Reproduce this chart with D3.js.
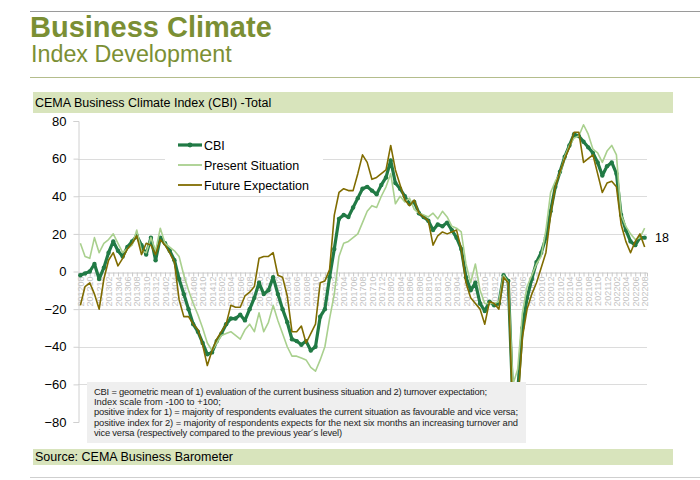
<!DOCTYPE html>
<html>
<head>
<meta charset="utf-8">
<script src="https://cdn.jsdelivr.net/npm/d3@7"></script>
<style>
  body { margin: 0; background: #fff; }
  svg { font-family: "Liberation Sans", Arial, sans-serif; }
</style>
</head>
<body>
<svg id="chart" width="700" height="480"></svg>
<script>
// monthly categories 201208 .. 202208
const months = d3.timeMonth.range(new Date(2012, 7, 1), new Date(2022, 8, 1));

const cbi = [-2, -1, 0, 4, -4, 2, 10, 16, 11, 8, 13, 16, 19, 14, 9, 18, 6, 18, 15, 11,
  6, -4, -12, -20, -28, -32, -38, -44, -43, -37, -33, -28, -25, -25, -23, -26, -20, -14, -6, -12,
  -10, -3, -12, -20, -27, -36, -37, -39, -37, -42, -40, -24, -20, -3, 12, 28, 30, 29, 34, 39,
  44, 45, 43, 41, 46, 50, 59, 47, 44, 40, 36, 37, 31, 29, 27, 22, 25, 24, 26, 22,
  18, 12, -3, -10, -6, -17, -21, -16, -18, -17, -2, -5, -72, -64, -30, -14, -4, 5, 10, 18,
  32, 45, 53, 61, 67, 73, 72, 69, 66, 63, 58, 51, 56, 58, 52, 30, 22, 16, 14, 18, 18];

const present = [15, 8, 7, 18, 10, 15, 17, 20, 15, 10, 12, 14, 22, 11, 10, 18, 11, 23, 15, 13,
  11, 8, -2, -10, -17, -23, -30, -38, -42, -38, -34, -33, -32, -34, -36, -31, -28, -32, -22, -32,
  -27, -18, -26, -33, -40, -45, -45, -46, -47, -51, -53, -47, -40, -25, -12, 8, 15, 16, 18, 20,
  26, 32, 35, 34, 40, 45, 52, 36, 40, 37, 39, 33, 31, 30, 29, 31, 28, 32, 29, 24,
  23, 21, 4, -6, 4, -10, -17, -17, -17, -16, -2, -6, -60, -52, -22, -8, -2, 4, 8, 22,
  42, 48, 52, 61, 67, 71, 72, 78, 73, 65, 63, 58, 64, 67, 62, 30, 24, 20, 17, 18, 23];

const future = [-18, -8, -6, -12, -20, -4, 6, 10, 3, 7, 12, 15, 19, 9, 15, 14, 9, 17, 14, 10,
  5, -15, -24, -24, -28, -31, -39, -50, -42, -36, -32, -28, -18, -19, -19, -13, -11, -8, 7, 8,
  8, 10, -2, -3, -13, -32, -32, -29, -38, -33, -28, -6, -5, 1, 30, 42, 44, 43, 43, 52,
  62, 58, 49, 50, 52, 54, 67, 54, 46, 38, 35, 38, 31, 29, 27, 14, 19, 21, 20, 21,
  22, 12, -6, -14, -17, -20, -28, -16, -17, -20, -3, -6, -80, -72, -35, -20, -12, -6, 2, 10,
  30, 45, 53, 60, 66, 74, 74, 58, 60, 62, 52, 42, 47, 48, 45, 25, 16, 10, 16, 20, 13];

const yTicks = [-80, -60, -40, -20, 0, 20, 40, 60, 80];
const gridTicks = [-60, -40, -20, 20, 40, 60];

const noteLines = [
  "CBI = geometric mean of 1) evaluation of the current business situation and 2) turnover expectation;",
  "Index scale from -100 to +100;",
  "positive index for 1) = majority of respondents evaluates the current situation as favourable and vice versa;",
  "positive index for 2) = majority of respondents expects for the next six months an increasing turnover and",
  "vice versa (respectively compared to the previous year\u00b4s level)"
];
const noteWidths = [393, null, 424, 424, 248];

// colours
const olive = "#7b8f34";
const cbiColor = "#217a45";
const presentColor = "#a9d08e";
const futureColor = "#806c00";

const svg = d3.select("#chart");
const fmt = d3.timeFormat("%Y%m");

// header
svg.append("line")
  .attr("x1", 30).attr("x2", 700).attr("y1", 11.5).attr("y2", 11.5)
  .attr("stroke", "#9a9a9a");

svg.append("text")
  .attr("x", 30).attr("y", 37)
  .attr("fill", olive)
  .style("font-size", "29px")
  .style("font-weight", "bold")
  .text("Business Climate");

svg.append("text")
  .attr("x", 31).attr("y", 62)
  .attr("fill", olive)
  .style("font-size", "23.3px")
  .text("Index Development");

svg.append("line")
  .attr("x1", 30).attr("x2", 700).attr("y1", 77.5).attr("y2", 77.5)
  .attr("stroke", "#b4bd8c");

// chart title band
svg.append("rect")
  .attr("x", 33).attr("y", 92).attr("width", 640).attr("height", 21)
  .attr("fill", "#d8e4bc");

svg.append("text")
  .attr("x", 35).attr("y", 107)
  .style("font-size", "12.5px")
  .text("CEMA Business Climate Index (CBI) -Total");

// scales
const x = d3.scalePoint()
  .domain(months)
  .range([78, 647])
  .padding(0.5);

const y = d3.scaleLinear()
  .domain([-80, 80])
  .range([422, 121]);

// gridlines
svg.append("g")
  .selectAll("line")
  .data(gridTicks)
  .join("line")
  .attr("x1", 78).attr("x2", 647)
  .attr("y1", d => Math.round(y(d)) + 0.5)
  .attr("y2", d => Math.round(y(d)) + 0.5)
  .attr("stroke", "#dcdcdc");

// y axis
const yAxis = svg.append("g")
  .attr("transform", "translate(78.5,0)")
  .call(d3.axisLeft(y).tickValues(yTicks).tickSize(5).tickPadding(7));
yAxis.select(".domain").attr("stroke", "#d0d0d0");
yAxis.selectAll(".tick line").attr("stroke", "#d0d0d0");
yAxis.selectAll("text")
  .style("font-size", "13px")
  .attr("fill", "#000")
  .attr("font-family", "Liberation Sans, Arial, sans-serif");

// x axis on the zero line
const xAxis = svg.append("g")
  .attr("transform", `translate(0,${Math.round(y(0)) + 0.5})`)
  .call(d3.axisBottom(x)
    .tickValues(months)
    .tickSize(4)
    .tickFormat((d, i) => i % 2 === 0 ? fmt(d) : ""));
xAxis.select(".domain").attr("stroke", "#c8c8c8");
xAxis.selectAll(".tick line").attr("stroke", "#c8c8c8");
xAxis.selectAll("text")
  .attr("transform", "rotate(-90)")
  .attr("x", -4)
  .attr("y", 0)
  .attr("dy", "0.35em")
  .attr("text-anchor", "end")
  .attr("fill", "#c4c4c4")
  .attr("font-family", "Liberation Sans, Arial, sans-serif")
  .style("font-size", "9px");

// lines
const line = d3.line()
  .x((d, i) => x(months[i]))
  .y(d => y(d));

svg.append("path")
  .datum(cbi)
  .attr("fill", "none")
  .attr("stroke", cbiColor)
  .attr("stroke-width", 3.2)
  .attr("stroke-linejoin", "round")
  .attr("d", line);

svg.append("g")
  .selectAll("circle")
  .data(cbi)
  .join("circle")
  .attr("cx", (d, i) => x(months[i]))
  .attr("cy", d => y(d))
  .attr("r", 2.2)
  .attr("fill", cbiColor);

svg.append("path")
  .datum(present)
  .attr("fill", "none")
  .attr("stroke", presentColor)
  .attr("stroke-width", 1.6)
  .attr("stroke-linejoin", "round")
  .attr("d", line);

svg.append("path")
  .datum(future)
  .attr("fill", "none")
  .attr("stroke", futureColor)
  .attr("stroke-width", 1.6)
  .attr("stroke-linejoin", "round")
  .attr("d", line);

// last value label
svg.append("text")
  .attr("x", 655)
  .attr("y", y(cbi[cbi.length - 1]) + 4.5)
  .style("font-size", "12.5px")
  .text(cbi[cbi.length - 1]);

// legend
const legend = svg.append("g");
legend.append("rect")
  .attr("x", 165).attr("y", 136).attr("width", 158).attr("height", 58)
  .attr("fill", "#fff");

const legendItems = [
  { name: "CBI", color: cbiColor, width: 3.2, dot: true },
  { name: "Present Situation", color: presentColor, width: 1.8, dot: false },
  { name: "Future Expectation", color: futureColor, width: 1.8, dot: false }
];

legendItems.forEach((item, i) => {
  const ly = 145 + i * 20;
  legend.append("line")
    .attr("x1", 178).attr("x2", 202).attr("y1", ly).attr("y2", ly)
    .attr("stroke", item.color).attr("stroke-width", item.width);
  if (item.dot) {
    legend.append("circle")
      .attr("cx", 190).attr("cy", ly).attr("r", 2.4)
      .attr("fill", item.color);
  }
  legend.append("text")
    .attr("x", 204).attr("y", ly + 4.5)
    .style("font-size", "12.5px")
    .text(item.name);
});

// note box
svg.append("rect")
  .attr("x", 87).attr("y", 382).attr("width", 439).attr("height", 61)
  .attr("fill", "#efefef");

noteLines.forEach((t, i) => {
  const txt = svg.append("text")
    .attr("x", 94)
    .attr("y", 394.5 + i * 10.4)
    .style("font-size", "9.4px")
    .attr("fill", "#222")
    .text(t);
  if (noteWidths[i]) {
    txt.attr("textLength", noteWidths[i]).attr("lengthAdjust", "spacing");
  }
});

// source band
svg.append("rect")
  .attr("x", 33).attr("y", 449).attr("width", 640).attr("height", 16)
  .attr("fill", "#d8e4bc");

svg.append("text")
  .attr("x", 35).attr("y", 461)
  .style("font-size", "12.5px")
  .text("Source: CEMA Business Barometer");

svg.append("line")
  .attr("x1", 30).attr("x2", 700).attr("y1", 477.5).attr("y2", 477.5)
  .attr("stroke", "#cfcfcf");
</script>
</body>
</html>
